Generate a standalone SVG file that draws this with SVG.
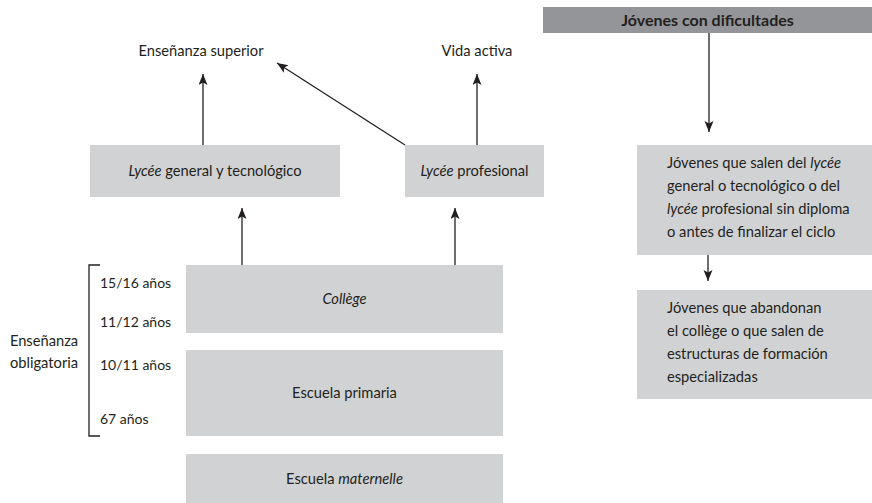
<svg xmlns="http://www.w3.org/2000/svg" width="872" height="503" viewBox="0 0 872 503">
<defs>
<style>
text{font-family:Lato,"Liberation Sans",Arial,sans-serif;font-size:14.7px;fill:#231f20}
.c{text-anchor:middle}
.i{font-style:italic}
.b{font-weight:bold;font-size:16px}
.age{font-size:14px}
.box{fill:#d1d2d4}
.hdr{fill:#939598}
.ln{stroke:#231f20;stroke-width:1.3;fill:none}
</style>
<marker id="ah" markerUnits="userSpaceOnUse" markerWidth="12" markerHeight="10" refX="11" refY="4.5" orient="auto">
<path d="M0,0 L11,4.5 L0,9 L2.5,4.5 z" fill="#231f20"/>
</marker>
</defs>
<rect width="872" height="503" fill="#ffffff"/>

<g id="ensenanza-superior"><text class="c" x="201" y="56">Enseñanza superior</text></g>
<g id="vida-activa"><text class="c" x="477" y="56">Vida activa</text></g>

<g id="lycee-general">
<rect class="box" x="90" y="145" width="250" height="52"/>
<text class="c" x="215" y="176"><tspan class="i">Lycée</tspan> general y tecnológico</text>
</g>
<g id="lycee-profesional">
<rect class="box" x="405" y="145" width="139" height="52"/>
<text class="c" x="474.5" y="176"><tspan class="i">Lycée</tspan> profesional</text>
</g>
<g id="college">
<rect class="box" x="186" y="265" width="317" height="68"/>
<text class="c i" x="344.5" y="304">Collège</text>
</g>
<g id="escuela-primaria">
<rect class="box" x="186" y="350" width="317" height="86"/>
<text class="c" x="344.5" y="398">Escuela primaria</text>
</g>
<g id="escuela-maternelle">
<rect class="box" x="186" y="454" width="317" height="49"/>
<text class="c" x="344.5" y="484">Escuela <tspan class="i">maternelle</tspan></text>
</g>

<g id="ensenanza-obligatoria">
<path class="ln" d="M100,265 H89 V436 H100"/>
<text class="c" x="44" y="346">Enseñanza</text>
<text class="c" x="44" y="368">obligatoria</text>
<text class="age" x="100" y="288">15/16 años</text>
<text class="age" x="100" y="327">11/12 años</text>
<text class="age" x="100" y="370">10/11 años</text>
<text class="age" x="100" y="424">67 años</text>
</g>

<g id="jovenes-dificultades">
<rect class="hdr" x="543" y="7" width="329" height="26"/>
<text class="c b" x="707.5" y="26">Jóvenes con dificultades</text>
</g>
<g id="jovenes-lycee">
<rect class="box" x="637" y="145" width="235" height="110"/>
<text x="667" y="168">Jóvenes que salen del <tspan class="i">lycée</tspan></text>
<text x="667" y="191">general o tecnológico o del</text>
<text x="667" y="214"><tspan class="i">lycée</tspan> profesional sin diploma</text>
<text x="667" y="237">o antes de finalizar el ciclo</text>
</g>
<g id="jovenes-college">
<rect class="box" x="637" y="290" width="235" height="109"/>
<text x="667" y="313">Jóvenes que abandonan</text>
<text x="667" y="336">el collège o que salen de</text>
<text x="667" y="359">estructuras de formación</text>
<text x="667" y="382">especializadas</text>
</g>

<g id="connectors">
<line class="ln" x1="203" y1="145" x2="203" y2="74" marker-end="url(#ah)"/>
<line class="ln" x1="405" y1="145" x2="277" y2="63" marker-end="url(#ah)"/>
<line class="ln" x1="477" y1="145" x2="477" y2="74" marker-end="url(#ah)"/>
<line class="ln" x1="242" y1="265" x2="242" y2="208" marker-end="url(#ah)"/>
<line class="ln" x1="455" y1="265" x2="455" y2="208" marker-end="url(#ah)"/>
<line class="ln" x1="709" y1="33" x2="709" y2="132" marker-end="url(#ah)"/>
<line class="ln" x1="708" y1="255" x2="708" y2="281" marker-end="url(#ah)"/>
</g>
</svg>
